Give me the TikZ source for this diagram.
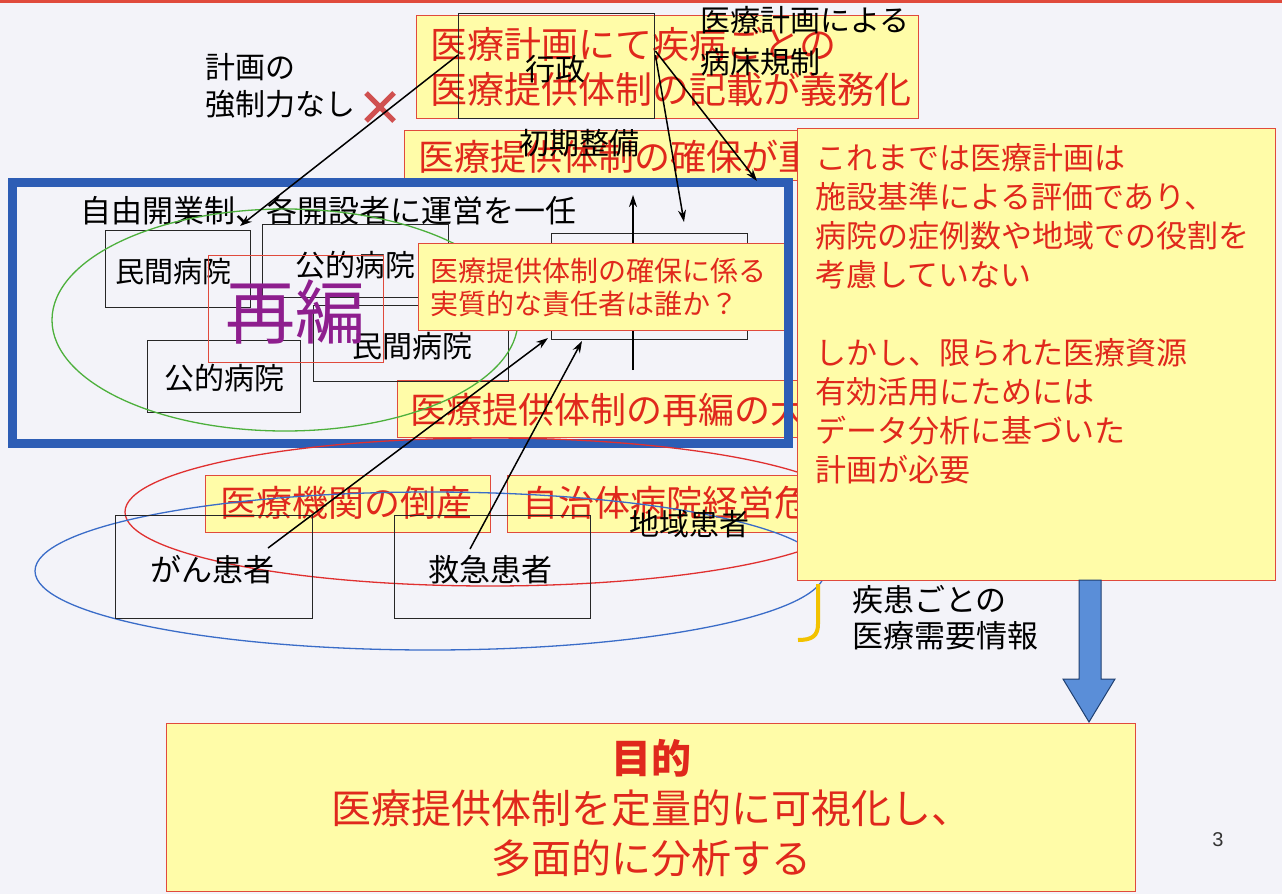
\documentclass[tikz,border=0pt]{standalone}
\usepackage{fontspec}
\setmainfont{Liberation Sans}
\newfontfamily\jp{Noto Sans CJK JP}
\usetikzlibrary{arrows.meta,calc}
\definecolor{bgc}{HTML}{F3F3F9}
\definecolor{byel}{HTML}{FFFCA8}
\definecolor{bred}{HTML}{E04A3C}
\definecolor{tred}{HTML}{E0281C}
\definecolor{fblue}{HTML}{2D5DB5}
\definecolor{egreen}{HTML}{4DB03C}
\definecolor{ered}{HTML}{E03030}
\definecolor{eblue}{HTML}{3A6CC8}
\definecolor{purp}{HTML}{8E1E8E}
\definecolor{brk}{HTML}{F2C200}
\definecolor{abl}{HTML}{5A8ED8}
\definecolor{abd}{HTML}{1F3F70}
\definecolor{xred}{HTML}{D05050}
\newcommand{\myfs}[2]{\fontsize{#1}{#2}\selectfont}
\begin{document}
\begin{tikzpicture}[x=1pt,y=-1pt,
  ybox/.style={draw=bred, fill=byel, line width=1.2pt, anchor=north west, inner sep=0pt},
  kbox/.style={draw=black!85, line width=1.4pt, anchor=north west, inner sep=0pt},
  rtxt/.style={text=tred, inner sep=0pt, anchor=west, align=left},
  ktxt/.style={text=black, inner sep=0pt, anchor=west, align=left},
  arr/.style={-{Stealth[length=12pt,width=8pt]}, line width=1.5pt, black}
]
\fill[bgc] (0,0) rectangle (1282,894);
\fill[bred] (0,0) rectangle (1282,3);
\useasboundingbox (0,0) rectangle (1282,894);

% top box
\node[ybox, minimum width=502pt, minimum height=103pt] (bA) at (416,15) {};
\node[rtxt, font={\jp\myfs{37}{45}}] (tA) at (430,67) {医療計画にて疾病ごとの\\医療提供体制の記載が義務化};
\node[kbox, minimum width=196pt, minimum height=105pt] (gyosei) at (458,13) {};
\node[ktxt, anchor=center, font={\jp\myfs{30}{36}}] (gyoseit) at (555,69) {行政};
\node[ktxt, font={\jp\myfs{30}{42}}] (byosho) at (700,41) {医療計画による\\病床規制};
\node[ktxt, font={\jp\myfs{30}{37}}] (kyosei) at (205,86) {計画の\\強制力なし};
\draw[xred, line width=5pt] (366,93) -- (394,121) (366,121) -- (394,93);

% box B
\node[ybox, minimum width=416pt, minimum height=50pt] (bB) at (404,130) {};
\node[rtxt, font={\jp\myfs{36}{43}}] (tB) at (418,157) {医療提供体制の確保が重};
\node[ktxt, anchor=center, font={\jp\myfs{30}{36}}] (shoki) at (579,143) {初期整備};

% box D
\node[ybox, minimum width=423pt, minimum height=57pt] (bD) at (397,380) {};
\node[rtxt, font={\jp\myfs{36}{43}}] (tD) at (410,410) {医療提供体制の再編の大};

% inside frame
\node[ktxt, font={\jp\myfs{31}{37}}] (jiyu) at (80,211) {自由開業制、各開設者に運営を一任};
\node[kbox, minimum width=145pt, minimum height=77pt] (minA) at (105,230) {};
\node[ktxt, anchor=center, font={\jp\myfs{29}{34}}] (minAt) at (173,271) {民間病院};
\node[kbox, minimum width=186pt, minimum height=73pt] (kouA) at (262,224) {};
\node[ktxt, anchor=center, font={\jp\myfs{30}{34}}] (kouAt) at (355,265) {公的病院};
\node[kbox, minimum width=195pt, minimum height=76pt] (minB) at (313,305) {};
\node[ktxt, anchor=center, font={\jp\myfs{30}{34}}] (minBt) at (412,346) {民間病院};
\node[kbox, minimum width=153pt, minimum height=72pt] (kouB) at (147,340) {};
\node[ktxt, anchor=center, font={\jp\myfs{30}{34}}] (kouBt) at (224,378) {公的病院};
\node[kbox, minimum width=196pt, minimum height=106pt] (blk) at (551,233) {};
\coordinate (vb) at (633,370);
\coordinate (vt) at (633,195);
\draw[arr] (vb) -- (vt);
\draw[egreen, line width=1.3pt] (285,320) ellipse [x radius=233pt, y radius=111pt];
\node[draw=bred, line width=1pt, anchor=north west, minimum width=175pt, minimum height=107pt, inner sep=0pt] (saihenbox) at (208,255) {};
\node[font={\jp\myfs{70}{72}}, text=purp, inner sep=0pt] (saihen) at (295,312) {再編};

% box C
\node[ybox, minimum width=367pt, minimum height=87pt] (bC) at (418,243) {};
\node[rtxt, font={\jp\myfs{28}{33}}] (tC) at (430,287) {医療提供体制の確保に係る\\実質的な責任者は誰か？};

% blue frame
\draw[fblue, line width=9pt] (12,182) rectangle (788,443);

% lower part
\draw[ered, line width=1.3pt] (490,512) ellipse [x radius=365pt, y radius=74pt];
\node[ybox, minimum width=285pt, minimum height=57pt] (bE) at (205,475) {};
\node[rtxt, font={\jp\myfs{36}{43}}] (tE) at (220,503) {医療機関の倒産};
\node[ybox, minimum width=313pt, minimum height=57pt] (bF) at (507,475) {};
\node[rtxt, font={\jp\myfs{36}{43}}] (tF) at (522,503) {自治体病院経営危};
\draw[eblue, line width=1.3pt] (430,571) ellipse [x radius=395pt, y radius=79pt];
\node[ktxt, anchor=center, font={\jp\myfs{30}{36}}] (chiiki) at (689,524) {地域患者};
\node[kbox, minimum width=197pt, minimum height=103pt] (gan) at (115,515) {};
\node[ktxt, anchor=center, font={\jp\myfs{31}{36}}] (gant) at (212,570) {がん患者};
\node[kbox, minimum width=196pt, minimum height=103pt] (kyu) at (394,515) {};
\node[ktxt, anchor=center, font={\jp\myfs{31}{36}}] (kyut) at (490,570) {救急患者};

% arrows
\coordinate (g1) at (268,548);
\coordinate (g1e) at (548,338);
\coordinate (k1) at (470,549);
\coordinate (k1e) at (582,341);
\coordinate (jt) at (240,226);
\coordinate (bt) at (757,181);
\coordinate (ct) at (684,222);
\draw[arr] (g1) -- (g1e);
\draw[arr] (k1) -- (k1e);
\draw[arr] ($(gyosei.north west)+(0,42)$) -- (jt);
\draw[arr] ($(gyosei.north east)+(0,38)$) -- (bt);
\draw[arr] ($(gyosei.north east)+(0,42)$) -- (ct);

% big box
\node[ybox, minimum width=478pt, minimum height=452pt] (big) at (797,128) {};
\node[rtxt, font={\jp\myfs{31}{39}}] (tbig) at (815,314) {これまでは医療計画は\\施設基準による評価であり、\\病院の症例数や地域での役割を\\考慮していない\\[39pt]しかし、限られた医療資源\\有効活用にためには\\データ分析に基づいた\\計画が必要};

\draw[brk, line width=4pt] (818,584) -- (818,624) .. controls (818,636) and (812,640) .. (798,640);
\node[ktxt, font={\jp\myfs{31}{36}}] (juyo) at (852,618) {疾患ごとの\\医療需要情報};

\filldraw[fill=abl, draw=abd, line width=1pt] (1079,580) -- (1101,580) -- (1101,679) -- (1115,679) -- (1089,722) -- (1063,679) -- (1079,679) -- cycle;

\node[ybox, minimum width=969pt, minimum height=168pt, align=center, text=tred, font={\jp\myfs{40}{50}}] (goal) at (166,723) {{\bfseries 目的}\\医療提供体制を定量的に可視化し、\\多面的に分析する};
\node[font=\myfs{20}{24}, text=black!80, inner sep=0pt] (pg) at (1218,840) {3};
\end{tikzpicture}
\end{document}
